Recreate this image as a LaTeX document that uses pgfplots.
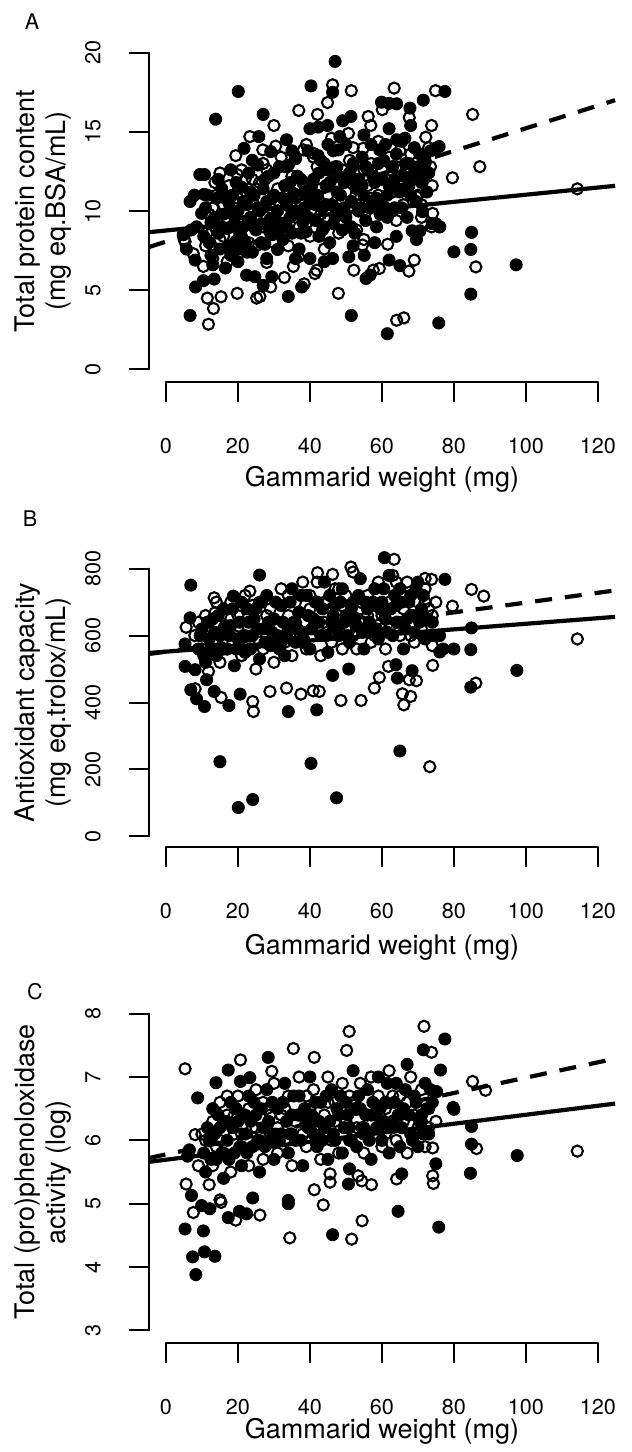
\documentclass[border=0pt]{standalone}
\usepackage{fontspec}
\setmainfont{TeX Gyre Heros}
\usepackage{pgfplots}
\pgfplotsset{compat=1.18}
\begin{document}
\begin{tikzpicture}
\pgfplotsset{
 rplot/.style={
  scale only axis, width=233.2pt,
  xmin=-4.8, xmax=124.8,
  axis x line*=bottom, axis y line*=left,
  axis line style={draw=none},
  tick align=outside, major tick length=10pt,
  every tick/.style={black, line width=1pt},
  xtick={0,20,...,120},
  /pgf/number format/assume math mode=true,
  clip=false,
  ticklabel style={font=\fontsize{10.8}{13}\selectfont},
  xticklabel style={anchor=center, yshift=-22pt},
  yticklabel style={xshift=-17.85pt, rotate=90, anchor=center},
  label style={font=\fontsize{13.5}{15.5}\selectfont},
  xlabel={Gammarid weight (mg)},
  ylabel style={at={(axis description cs:-0.2266,0.5)}, anchor=center, align=center},
 },
 fpt/.style={only marks, mark=*, mark size=3.05pt, mark options={fill=black, draw=black, line width=0.4pt}},
 opt/.style={only marks, mark=o, mark size=2.8pt, mark options={draw=black, line width=1.05pt}},
 sline/.style={black, line width=2.1pt, no marks},
 dline/.style={black, line width=2.1pt, no marks, dash pattern=on 8.5pt off 6.5pt},
}
\path[use as bounding box] (0,0) rectangle (316pt,-726pt);
\node[font=\fontsize{10.8}{13}\selectfont] at (16pt,-11pt) {A};
\node[font=\fontsize{10.8}{13}\selectfont] at (15pt,-259.5pt) {B};
\node[font=\fontsize{10.8}{13}\selectfont] at (17.5pt,-496pt) {C};
% ---------------- Panel A
\begin{axis}[rplot, at={(74.35pt,-191pt)}, anchor=south west, height=171pt,
  ymin=-0.8, ymax=20.8, ytick={0,5,...,20},
  xlabel style={at={(axis description cs:0.5,-0.2836)}, anchor=center},
  ylabel={Total protein content\\(mg eq.BSA/mL)}]
\draw[line width=1pt, line cap=round] (axis cs:-4.8,0) -- (axis cs:-4.8,20);
\draw[line width=1pt, line cap=round] (axis cs:0,-0.8) -- (axis cs:120,-0.8);
\addplot[sline] coordinates {(-4.8,8.66) (124.8,11.59)};
\addplot[dline] coordinates {(-4.8,7.72) (124.8,17.0)};
\addplot[fpt] coordinates {
(47.0,19.45) (20.1,17.55) (13.8,15.8) (40.3,17.9) (46.3,17.5) (77.5,17.55) (27.0,16.1) (40.0,15.2) (42.3,15.3) (44.9,15.4) (49.1,15.7) (51.4,15.97) (59.9,16.87) (62.0,16.8) (64.1,16.77) (67.8,16.5) (71.5,17.0) (84.9,8.65) (84.7,7.57) (80.0,7.42) (84.7,4.75) (75.8,2.93) (61.5,2.25) (51.5,3.4) (6.7,3.4) (8.2,5.2) (10.4,5.6) (13.4,5.7) (34.0,4.6) (37.7,5.2) (27.0,5.3) (22.4,5.95) (24.7,5.85) (29.4,5.85) (31.0,7.57) (46.3,7.0) (50.8,7.1) (55.1,7.2) (55.6,5.74) (56.7,5.95) (62.0,6.9) (65.0,6.55) (69.6,8.2) (68.4,8.75) (70.6,8.75) (76.1,9.0) (71.3,9.96) (21.7,13.96) (25.8,14.7) (29.1,13.75) (33.5,14.5) (10.7,12.3) (7.0,8.8) (10.6,11.05) (9.9,9.85) (42.3,13.5) (47.9,13.86) (48.3,14.7) (59.4,13.86) (64.1,14.5) (66.4,14.6) (75.0,13.96) (72.2,12.3) (44.4,12.8) (97.3,6.6) (75.9,14.07) (6.7,10.6) (7.9,11.0) (9.4,12.3) (5.7,7.6) (8.1,6.9) (4.8,8.5) (8.5,9.0)
(11,10.2) (12,8.0) (12.5,9.3) (13,6.6) (14,10.8) (14.5,8.6) (15,7.6) (15.5,11.4) (16,9.8) (16.5,6.4) (17,8.9) (17.5,10.5) (18,7.2) (18.5,11.0) (19,9.2) (19.5,8.1) (20,10.0) (20,6.8)
(21,11.5) (21.5,9.0) (22,8.0) (22.5,10.4) (23,12.4) (23.5,9.6) (24,7.4) (24.5,11.0) (25,8.8) (25.5,12.9) (26,10.0) (26.5,9.2) (27,11.4) (27.5,7.9) (28,10.6) (28.5,12.2) (29,9.5) (29.5,8.5) (30,11.0)
(31,10.0) (31.5,12.8) (32,9.1) (32.5,8.2) (33,11.6) (33.5,10.4) (34,12.9) (34.5,9.6) (35,8.6) (35.5,11.1) (36,13.3) (36.5,10.0) (37,7.6) (37.5,12.0) (38,9.3) (38.5,11.2) (39,8.7) (39.5,13.8) (40,10.6) (40,7.0)
(41,12.0) (41.5,9.4) (42,11.0) (42.5,8.4) (43,13.2) (43.5,10.2) (44,9.0) (44.5,11.6) (45,12.6) (45.5,8.0) (46,10.4) (46.5,13.8) (47,9.6) (47.5,11.2) (48,12.2) (48.5,10.0) (49,8.8) (49.5,11.8) (50,14.2) (50,9.6)
(51,12.4) (51.5,10.6) (52,13.0) (52.5,8.6) (53,11.4) (53.5,12.0) (54,10.2) (54.5,13.4) (55,11.0) (55.5,9.4) (56,12.6) (57,14.2) (57.5,10.6) (58,11.8) (58.5,9.0) (59,13.0) (60,12.0) (60,10.4)
(61,14.2) (61.5,9.6) (62,11.6) (63,12.8) (63.5,10.2) (64,13.6) (65,11.2) (65.5,14.4) (66,12.2) (67,9.6) (67.5,13.0) (68,11.0) (69,14.0) (70,12.6) (71,11.8) (72,13.2) (73,12.4) (74,9.2) (76,9.0)
(10.5,8.4) (11.5,11.0) (12.5,7.2) (13.5,9.6) (14.5,12.0) (15.5,9.0) (16.5,10.8) (17.5,7.8) (18.5,9.8) (19.5,11.8) (20.5,8.6) (21.5,10.6) (22.5,7.4) (23.5,11.2) (24.5,9.0) (25.5,10.2) (26.5,8.0) (27.5,12.0) (28.5,9.0) (29.5,10.8) (30.5,9.4) (31.5,8.8) (32.5,10.8) (33.5,9.0) (34.5,11.8) (35.5,9.8) (36.5,12.2) (37.5,8.6) (38.5,10.2) (39.5,9.6) (40.5,11.6) (41.5,10.4) (42.5,12.4) (43.5,8.8) (44.5,10.4) (45.5,11.8) (46.5,9.2) (47.5,12.8) (48.5,11.0) (49.5,10.2) (50.5,12.0) (51.5,9.0) (52.5,11.8) (53.5,10.0) (54.5,11.6) (55.5,12.8) (56.5,10.2) (57.5,12.2) (58.5,10.8) (59.5,9.8) (60.5,13.2) (61.5,11.0) (62.5,10.0) (63.5,12.0) (64.5,11.4) (65.5,10.2) (66.5,13.0) (67.5,11.6) (68.5,12.2) (69.5,10.6) (70.5,13.6) (71.5,12.6) (72.5,11.2) (73.5,13.8) (18,12.6) (24,13.2) (30,12.4) (35,13.8) (45,14.2) (55,14.8) (62,15.2) (68,15.4) (20,7.6) (28,7.0) (36,7.0) (44,6.8) (52,7.8) (58,8.0) (64,8.4)
};
\addplot[opt] coordinates {
(46.3,17.97) (51.5,17.6) (63.4,17.76) (74.9,17.6) (30.0,15.4) (36.9,16.35) (42.1,16.1) (44.9,16.85) (56.2,15.97) (56.9,15.4) (60.1,16.4) (67.6,15.9) (73.8,15.4) (85.2,16.1) (79.6,12.1) (87.2,12.8) (86.1,6.47) (64.1,3.1) (66.1,3.25) (47.9,4.8) (11.8,2.85) (13.2,3.84) (11.5,4.5) (15.3,4.58) (19.8,4.8) (25.2,4.5) (26.1,4.6) (38.4,5.4) (29.1,5.2) (32.9,5.8) (41.4,6.05) (41.9,6.26) (35.4,6.5) (28.0,6.75) (36.8,7.1) (52.2,6.26) (54.6,7.85) (57.6,6.26) (59.3,6.37) (61.6,7.9) (67.5,6.2) (69.0,6.9) (74.1,9.85) (73.8,9.0) (69.6,10.9) (19.4,13.5) (23.3,14.7) (26.9,13.86) (30.5,14.1) (19.8,12.3) (13.6,11.8) (38.2,13.86) (40.9,13.65) (50.7,14.9) (54.8,13.96) (72.2,14.66) (73.5,12.8) (71.3,13.5) (68.1,11.96) (62.2,12.2) (47.4,12.17) (114.3,11.4) (5.3,8.06) (7.6,7.3) (10.4,6.5) (11.3,8.6) (5.1,8.2)
(12,9.8) (13,7.0) (14,11.0) (15,8.2) (16,10.4) (17,6.8) (17.5,11.6) (18,9.0) (19,7.6) (20,10.8) (21,8.4) (22,12.0) (23,9.4) (24,10.6) (25,7.8) (26,11.8) (27,9.0) (28,12.6) (29,10.2) (30,8.0) (31,11.4) (32,13.4) (33,9.8) (34,7.8) (35,12.2) (36,10.8) (37,9.0) (38,11.8) (39,14.2) (40,8.4) (41,10.8) (42,12.8) (43,9.8) (44,7.6) (45,11.0) (46,14.6) (47,10.2) (48,8.6) (49,12.6) (50,11.2) (51,9.0) (52,14.0) (53,10.4) (54,12.4) (55,8.2) (56,11.6) (57,13.0) (58,9.6) (59,11.0) (60,12.6) (61,10.2) (62,13.4) (63,11.2) (64,9.4) (65,12.0) (66,10.4) (67,12.8) (68,13.6) (70,11.0) (71,9.6) (72,13.0) (74,11.6) (75,9.2)
(11,7.8) (13,10.2) (15,12.4) (17,9.4) (19,10.6) (21,12.6) (23,8.0) (25,11.4) (27,13.0) (29,8.6) (31,9.0) (33,12.8) (35,10.0) (37,11.6) (39,9.2) (41,13.4) (43,11.4) (45,9.4) (47,12.8) (49,10.6) (51,13.2) (53,8.8) (55,12.6) (57,10.8) (59,14.4) (61,12.0) (63,10.0) (65,13.8) (67,11.4) (69,12.4) (71,10.4) (73,14.0) (16,8.4) (24,12.0) (34,11.2) (44,13.0) (54,10.8) (64,12.8)
};
\end{axis}
% ---------------- Panel B
\begin{axis}[rplot, at={(74.35pt,-423.5pt)}, anchor=south west, height=144.5pt,
  ymin=-32, ymax=832, ytick={0,200,...,800},
  xlabel style={at={(axis description cs:0.5,-0.346)}, anchor=center},
  ylabel={Antioxidant capacity\\(mg eq.trolox/mL)}]
\draw[line width=1pt, line cap=round] (axis cs:-4.8,0) -- (axis cs:-4.8,800);
\draw[line width=1pt, line cap=round] (axis cs:0,-32) -- (axis cs:120,-32);
\addplot[sline] coordinates {(-4.8,548) (124.8,656)};
\addplot[dline] coordinates {(-4.8,545) (124.8,735)};
\addplot[fpt] coordinates {
(6.9,751) (15.0,223) (40.3,218) (65.0,255) (20.1,86) (24.1,110) (47.4,115) (34.0,373) (41.9,378) (10.7,388) (17.5,391) (6.9,438) (8.5,411) (13.4,433) (20.6,425) (63.9,513) (64.3,473) (68.4,495) (46.3,481) (50.8,500) (76.1,551) (80.0,560) (84.7,558) (84.7,446) (84.9,623) (77.5,768) (60.7,833) (26.0,781) (18.7,718) (6.7,653) (5.3,575) (5.3,508) (8.1,498) (11.3,468) (97.5,496)
(9,560) (10,620) (11,520) (12,590) (13,650) (14,540) (15,600) (16,680) (17,560) (18,630) (19,510) (20,590) (21,700) (22,550) (23,640) (24,600) (25,680) (26,530) (27,620) (28,720) (29,570) (30,650) (31,600) (32,690) (33,540) (34,630) (35,740) (36,580) (37,670) (38,610) (39,720) (40,560) (41,650) (42,700) (43,600) (44,760) (45,550) (46,640) (47,690) (48,600) (49,740) (50,660) (51,580) (52,700) (53,630) (54,770) (55,560) (56,680) (57,620) (58,740) (59,590) (60,700) (61,650) (62,780) (63,600) (64,690) (65,740) (66,560) (67,650) (68,720) (69,610) (70,760) (71,680) (72,590) (74,640) (76,600) (77,560)
(9.5,600) (10.5,540) (11.5,640) (12.5,560) (13.5,610) (14.5,660) (15.5,560) (16.5,630) (17.5,600) (18.5,680) (19.5,560) (20.5,640) (21.5,600) (22.5,680) (23.5,560) (24.5,650) (25.5,620) (26.5,700) (27.5,580) (28.5,640) (29.5,610) (30.5,700) (31.5,560) (32.5,640) (33.5,600) (34.5,700) (35.5,640) (36.5,620) (37.5,720) (38.5,580) (39.5,660) (40.5,620) (41.5,700) (42.5,640) (43.5,680) (44.5,600) (45.5,720) (46.5,660) (47.5,620) (48.5,700) (49.5,640) (50.5,600) (51.5,680) (52.5,650) (53.5,720) (54.5,610) (55.5,700) (56.5,640) (57.5,700) (58.5,620) (59.5,680) (60.5,740) (61.5,610) (62.5,680) (63.5,720) (64.5,640) (65.5,700) (66.5,620) (67.5,700) (68.5,660) (69.5,740) (70.5,640) (71.5,720) (72.5,650) (73.5,600)
};
\addplot[opt] coordinates {
(73.3,208) (24.3,373) (24.1,403) (8.1,441) (15.3,415) (28.9,433) (33.5,443) (37.5,425) (40.9,435) (42.6,433) (48.6,406) (54.2,406) (57.9,443) (59.3,475) (61.8,508) (65.7,426) (68.0,418) (66.1,393) (67.6,468) (69.6,465) (74.1,511) (86.1,458) (84.9,738) (79.6,688) (63.4,828) (51.4,805) (46.3,783) (42.1,788) (73.8,768) (72.0,771) (23.3,733) (13.4,713) (13.6,668) (5.6,625) (11.8,493) (114.3,590) (88.3,718)
(8,600) (10,560) (11,660) (13,580) (14,700) (15,520) (16,620) (17,560) (18,700) (19,600) (20,660) (21,540) (22,720) (23,580) (24,640) (25,500) (26,700) (27,560) (28,600) (29,680) (30,520) (31,620) (32,740) (33,580) (34,660) (35,540) (36,700) (37,610) (38,760) (39,560) (40,680) (41,600) (42,760) (43,540) (44,640) (45,700) (46,580) (47,740) (48,660) (49,560) (50,720) (51,620) (52,790) (53,560) (54,680) (55,640) (56,720) (57,580) (58,660) (59,760) (60,620) (61,560) (62,700) (63,780) (64,640) (65,600) (66,720) (67,760) (68,660) (69,580) (70,700) (71,620) (72,740) (73,680) (74,570) (75,700)
(9,640) (12,620) (14,580) (16,560) (18,650) (20,620) (22,600) (24,690) (26,580) (28,660) (30,600) (32,580) (34,720) (36,640) (38,580) (40,720) (42,620) (44,700) (46,680) (48,740) (50,620) (52,600) (54,700) (56,660) (58,600) (60,660) (62,620) (64,760) (66,680) (68,600) (70,660) (72,700) (74,660)
};
\end{axis}
% ---------------- Panel C
\begin{axis}[rplot, at={(74.35pt,-671.5pt)}, anchor=south west, height=171pt,
  ymin=2.8, ymax=8.2, ytick={3,4,...,8},
  xlabel style={at={(axis description cs:0.5,-0.2573)}, anchor=center},
  ylabel={Total (pro)phenoloxidase\\activity (log)}]
\draw[line width=1pt, line cap=round] (axis cs:-4.8,3) -- (axis cs:-4.8,8);
\draw[line width=1pt, line cap=round] (axis cs:0,2.8) -- (axis cs:120,2.8);
\addplot[sline] coordinates {(-4.8,5.66) (124.8,6.58)};
\addplot[dline] coordinates {(-4.8,5.72) (124.8,7.29)};
\addplot[fpt] coordinates {
(17.3,7.11) (28.4,7.31) (77.5,7.6) (71.5,7.43) (76.3,7.11) (8.8,6.67) (13.9,6.91) (20.7,6.93) (23.3,6.99) (7.1,5.13) (5.3,4.6) (10.4,4.57) (7.4,4.16) (10.7,4.24) (13.6,4.17) (8.3,3.88) (9.9,4.97) (12.2,4.92) (17.3,4.78) (20.4,4.88) (22.4,4.84) (24.1,5.09) (34.0,5.05) (34.0,5.0) (46.3,4.51) (64.5,4.88) (75.8,4.63) (50.7,5.31) (51.0,5.55) (65.5,5.47) (75.0,5.63) (84.6,5.48) (84.9,5.94) (84.9,6.22) (80.0,6.49) (75.2,6.77) (97.6,5.76) (6.0,5.75) (6.5,5.85)
(11,5.5) (12,6.0) (13,6.5) (14,5.7) (15,6.2) (16,5.4) (17,6.0) (18,6.6) (19,5.8) (20,6.3) (21,5.6) (22,6.1) (23,6.7) (24,5.9) (25,6.4) (26,5.5) (27,6.2) (28,6.8) (29,6.0) (30,5.7) (31,6.5) (32,6.1) (33,6.9) (34,5.8) (35,6.4) (36,6.0) (37,6.7) (38,5.6) (39,6.3) (40,7.0) (41,6.1) (42,5.9) (43,6.6) (44,6.2) (45,5.7) (46,6.8) (47,6.0) (48,6.4) (49,5.8) (50,6.6) (51,6.2) (52,7.1) (53,5.9) (54,6.5) (55,6.1) (56,6.8) (57,5.7) (58,6.4) (59,7.0) (60,6.0) (61,6.6) (62,5.8) (63,6.3) (64,6.9) (65,5.9) (66,6.5) (67,7.2) (68,6.1) (69,6.7) (70,5.9) (71,6.4) (72,6.9) (73,6.1) (74,6.6)
(10.5,5.8) (11.5,6.2) (12.5,5.7) (13.5,6.1) (14.5,6.4) (15.5,5.8) (16.5,6.3) (17.5,5.7) (18.5,6.2) (19.5,6.5) (20.5,5.9) (21.5,6.4) (22.5,5.8) (23.5,6.3) (24.5,6.6) (25.5,6.0) (26.5,6.5) (27.5,5.9) (28.5,6.3) (29.5,6.6) (30.5,6.1) (31.5,6.0) (32.5,6.6) (33.5,6.3) (34.5,6.1) (35.5,6.7) (36.5,6.4) (37.5,6.0) (38.5,6.5) (39.5,6.2) (40.5,6.4) (41.5,6.6) (42.5,6.3) (43.5,6.0) (44.5,6.7) (45.5,6.3) (46.5,6.1) (47.5,6.5) (48.5,6.7) (49.5,6.2) (50.5,6.4) (51.5,6.0) (52.5,6.5) (53.5,6.7) (54.5,6.2) (55.5,6.4) (56.5,6.0) (57.5,6.6) (58.5,6.2) (59.5,6.5) (60.5,6.3) (61.5,6.9) (62.5,6.2) (63.5,6.6) (64.5,6.4) (65.5,6.2) (66.5,6.8) (67.5,6.4) (68.5,6.0) (69.5,6.6) (70.5,6.3) (71.5,6.1) (72.5,6.5) (73.5,6.8)
};
\addplot[opt] coordinates {
(5.3,7.13) (20.7,7.27) (29.4,7.09) (35.4,7.45) (41.2,7.31) (50.9,7.72) (50.2,7.42) (71.7,7.80) (73.8,7.39) (85.2,6.93) (8.1,6.09) (5.6,5.31) (7.6,4.86) (15.0,5.06) (15.3,5.02) (19.4,4.74) (26.1,4.82) (34.4,4.46) (43.7,4.98) (51.6,4.44) (54.5,4.73) (41.2,5.22) (45.6,5.34) (45.6,5.47) (53.4,5.44) (57.1,5.30) (54.4,5.36) (64.1,5.39) (74.1,5.44) (74.3,5.32) (74.1,5.88) (86.3,5.87) (79.8,6.52) (114.3,5.83) (88.8,6.79)
(9,5.6) (10,6.1) (12,5.3) (13,6.3) (14,5.9) (15,6.6) (16,5.8) (17,6.4) (18,5.5) (19,6.1) (20,6.7) (21,5.9) (22,6.4) (23,5.6) (24,6.2) (25,6.8) (26,6.0) (27,5.7) (28,6.5) (29,6.1) (30,6.9) (31,5.8) (32,6.4) (33,6.0) (34,6.7) (35,5.6) (36,6.3) (37,7.0) (38,6.1) (39,5.9) (40,6.5) (41,6.8) (42,6.2) (43,5.7) (44,6.4) (45,7.0) (46,6.0) (47,6.6) (48,5.8) (49,6.9) (50,6.3) (51,6.0) (52,6.6) (53,6.2) (54,6.9) (55,5.8) (56,6.4) (57,7.0) (58,6.1) (59,6.7) (60,5.9) (61,6.5) (62,7.1) (63,6.2) (64,6.0) (65,6.7) (66,6.3) (67,5.8) (68,7.0) (69,6.4) (70,6.2) (71,6.8) (72,5.9) (73,6.5) (75,6.3)
(11,6.0) (13,5.6) (15,6.0) (17,6.7) (19,6.4) (21,6.1) (23,6.5) (25,6.2) (27,6.6) (29,6.4) (31,6.2) (33,6.5) (35,6.1) (37,6.4) (39,6.7) (41,6.3) (43,6.2) (45,6.6) (47,6.3) (49,6.1) (51,6.7) (53,6.5) (55,6.2) (57,6.4) (59,6.2) (61,6.1) (63,6.7) (65,6.4) (67,6.6) (69,6.1) (71,6.3) (73,6.2)
};
\end{axis}
\end{tikzpicture}
\end{document}
